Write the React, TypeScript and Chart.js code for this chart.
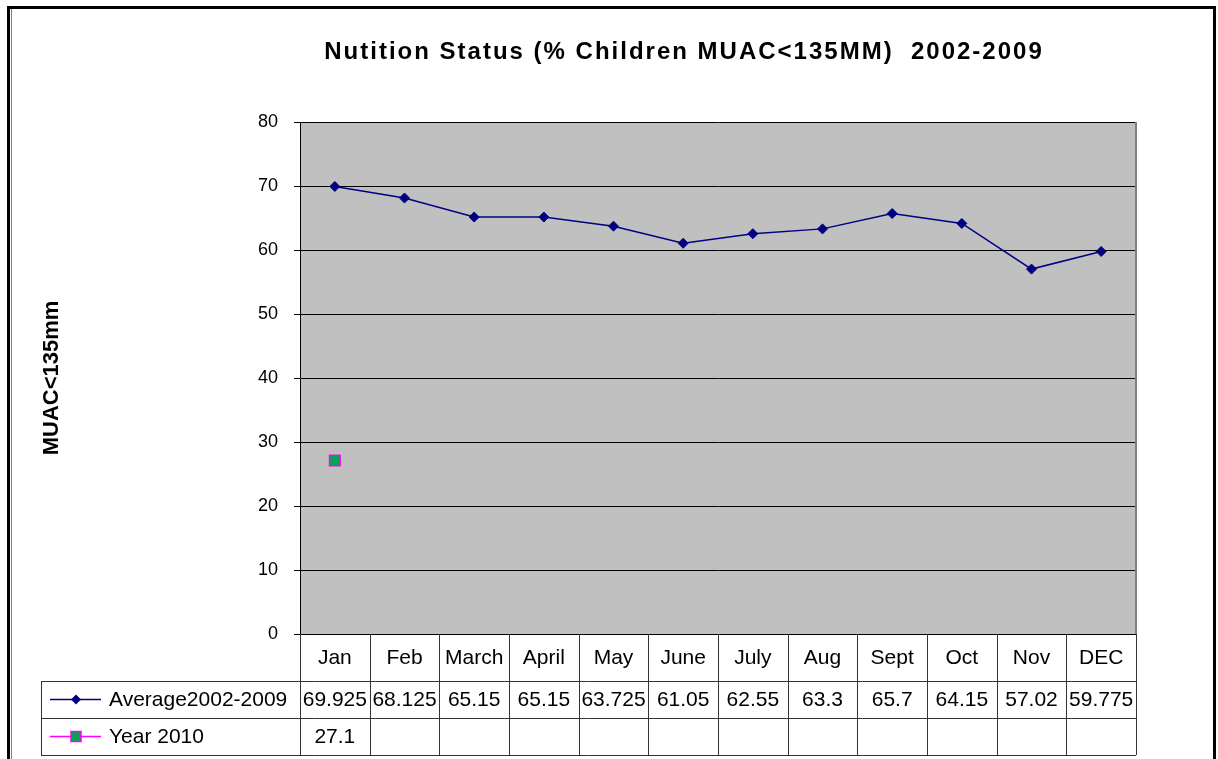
import { useEffect, useRef } from "react";
import { Chart, registerables } from "chart.js";

Chart.register(...registerables);

const categories = ["Jan", "Feb", "March", "April", "May", "June", "July", "Aug", "Sept", "Oct", "Nov", "DEC"];
const average = [69.925, 68.125, 65.15, 65.15, 63.725, 61.05, 62.55, 63.3, 65.7, 64.15, 57.02, 59.775];
const year2010: (number | null)[] = [27.1, null, null, null, null, null, null, null, null, null, null, null];
const seriesNames = ["Average2002-2009", "Year 2010"];
const titleText = "Nutition Status (% Children MUAC<135MM)  2002-2009";
const yAxisTitle = "MUAC<135mm";
const yMin = 0;
const yMax = 80;
const yStep = 10;

const FONT = "'Liberation Sans', Arial, sans-serif";
const NAVY = "#000080";
const MAGENTA = "#ff00ff";
const GREEN = "#00a651";

const tablePlugin = {
  id: "tableAndFrame",
  beforeDraw(chart: any) {
    const { ctx, chartArea: a } = chart;
    ctx.save();
    ctx.fillStyle = "#c0c0c0";
    ctx.fillRect(a.left, a.top, a.right - a.left, a.bottom - a.top);
    ctx.restore();
  },
  afterDraw(chart: any) {
    const { ctx, chartArea: a, height } = chart;
    const xs = chart.scales.x;
    ctx.save();

    // plot area right border
    ctx.strokeStyle = "#808080";
    ctx.lineWidth = 2;
    ctx.beginPath();
    ctx.moveTo(a.right, a.top);
    ctx.lineTo(a.right, a.bottom);
    ctx.stroke();

    // outer page frame
    ctx.fillStyle = "#000";
    ctx.fillRect(7, 6, 1209, 3);
    ctx.fillRect(7, 6, 3, height);
    ctx.fillRect(1213, 6, 3, height);
    ctx.fillStyle = "#808080";
    ctx.fillRect(11, 9, 1, height);

    // title
    ctx.fillStyle = "#000";
    ctx.font = `bold 24px ${FONT}`;
    (ctx as any).letterSpacing = "2px";
    ctx.textAlign = "center";
    ctx.textBaseline = "alphabetic";
    ctx.fillText(titleText, 684, 59);
    (ctx as any).letterSpacing = "0px";

    // data table
    const n = categories.length;
    const half = (xs.getPixelForValue(1) - xs.getPixelForValue(0)) / 2;
    const top = a.bottom;
    const r1 = top + 47;
    const r2 = r1 + 37;
    const r3 = r2 + 37;
    const legendLeft = 41;
    const crisp = (v: number) => Math.round(v) + 0.5;

    ctx.strokeStyle = "#333";
    ctx.lineWidth = 1;
    ctx.beginPath();
    for (let i = 0; i <= n; i++) {
      const bx = i < n ? xs.getPixelForValue(i) - half : xs.getPixelForValue(n - 1) + half;
      ctx.moveTo(crisp(bx), top);
      ctx.lineTo(crisp(bx), r3);
    }
    ctx.moveTo(crisp(legendLeft), r1);
    ctx.lineTo(crisp(legendLeft), r3);
    for (const ry of [r1, r2, r3]) {
      ctx.moveTo(legendLeft, crisp(ry));
      ctx.lineTo(a.right, crisp(ry));
    }
    ctx.stroke();

    ctx.fillStyle = "#000";
    ctx.font = `21px ${FONT}`;
    ctx.textAlign = "center";
    ctx.textBaseline = "middle";
    const hy = (top + r1) / 2 + 1;
    const y1 = (r1 + r2) / 2 + 1;
    const y2 = (r2 + r3) / 2 + 1;
    for (let i = 0; i < n; i++) {
      const cx = xs.getPixelForValue(i);
      ctx.fillText(categories[i], cx, hy);
      ctx.fillText(String(average[i]), cx, y1);
      if (year2010[i] !== null) ctx.fillText(String(year2010[i]), cx, y2);
    }

    // legend keys
    ctx.lineWidth = 1.5;
    ctx.strokeStyle = NAVY;
    ctx.beginPath();
    ctx.moveTo(50, y1 - 1);
    ctx.lineTo(101, y1 - 1);
    ctx.stroke();
    ctx.fillStyle = NAVY;
    ctx.beginPath();
    ctx.moveTo(76, y1 - 6);
    ctx.lineTo(81, y1 - 1);
    ctx.lineTo(76, y1 + 4);
    ctx.lineTo(71, y1 - 1);
    ctx.closePath();
    ctx.fill();

    ctx.strokeStyle = MAGENTA;
    ctx.beginPath();
    ctx.moveTo(50, y2 - 1);
    ctx.lineTo(101, y2 - 1);
    ctx.stroke();
    ctx.fillStyle = GREEN;
    ctx.fillRect(71, y2 - 6, 10, 10);
    ctx.strokeStyle = MAGENTA;
    ctx.lineWidth = 1.5;
    ctx.strokeRect(71, y2 - 6, 10, 10);

    ctx.fillStyle = "#000";
    ctx.textAlign = "left";
    ctx.fillText(seriesNames[0], 109, y1);
    ctx.fillText(seriesNames[1], 109, y2);

    ctx.restore();
  },
};

export default function App() {
  const ref = useRef<HTMLCanvasElement | null>(null);

  useEffect(() => {
    document.body.style.margin = "0";
    const canvas = ref.current;
    if (!canvas) return;
    const chart = new Chart(canvas, {
      type: "line",
      data: {
        labels: categories,
        datasets: [
          {
            label: seriesNames[0],
            data: average,
            borderColor: NAVY,
            backgroundColor: NAVY,
            borderWidth: 1.5,
            pointStyle: "rectRot",
            pointRadius: 5,
            pointBorderWidth: 1,
            pointBackgroundColor: NAVY,
            pointBorderColor: NAVY,
            tension: 0,
          },
          {
            label: seriesNames[1],
            data: year2010,
            borderColor: MAGENTA,
            backgroundColor: GREEN,
            borderWidth: 1.5,
            pointStyle: "rect",
            pointRadius: 7.5,
            pointBorderWidth: 1.5,
            pointBackgroundColor: GREEN,
            pointBorderColor: MAGENTA,
            showLine: false,
          },
        ],
      },
      options: {
        responsive: false,
        maintainAspectRatio: false,
        animation: false,
        devicePixelRatio: 1,
        layout: { padding: { top: 122, right: 82, left: 0, bottom: 0 } },
        plugins: {
          legend: { display: false },
          tooltip: { enabled: false },
          title: { display: false },
        },
        scales: {
          x: {
            type: "category",
            offset: true,
            ticks: { display: false },
            grid: { display: false },
            border: { display: true, color: "#000", width: 1 },
            afterFit: (scale: any) => {
              scale.height = 125;
            },
          },
          y: {
            min: yMin,
            max: yMax,
            ticks: {
              stepSize: yStep,
              color: "#000",
              padding: 16,
              font: { family: FONT, size: 18 },
            },
            grid: {
              color: "#000",
              lineWidth: 1,
              tickLength: 6,
              drawTicks: true,
            },
            border: { display: true, color: "#000", width: 1 },
            title: {
              display: true,
              text: yAxisTitle,
              color: "#000",
              font: { family: FONT, size: 22, weight: "bold" },
              padding: { top: 39, bottom: 0 },
            },
            afterFit: (scale: any) => {
              scale.width = 300;
            },
          },
        },
      },
      plugins: [tablePlugin],
    });
    return () => chart.destroy();
  }, []);

  return (
    <div style={{ position: "absolute", left: 0, top: 0, width: 1218, height: 759, background: "#fff" }}>
      <canvas ref={ref} width={1218} height={759} style={{ display: "block" }} />
    </div>
  );
}
